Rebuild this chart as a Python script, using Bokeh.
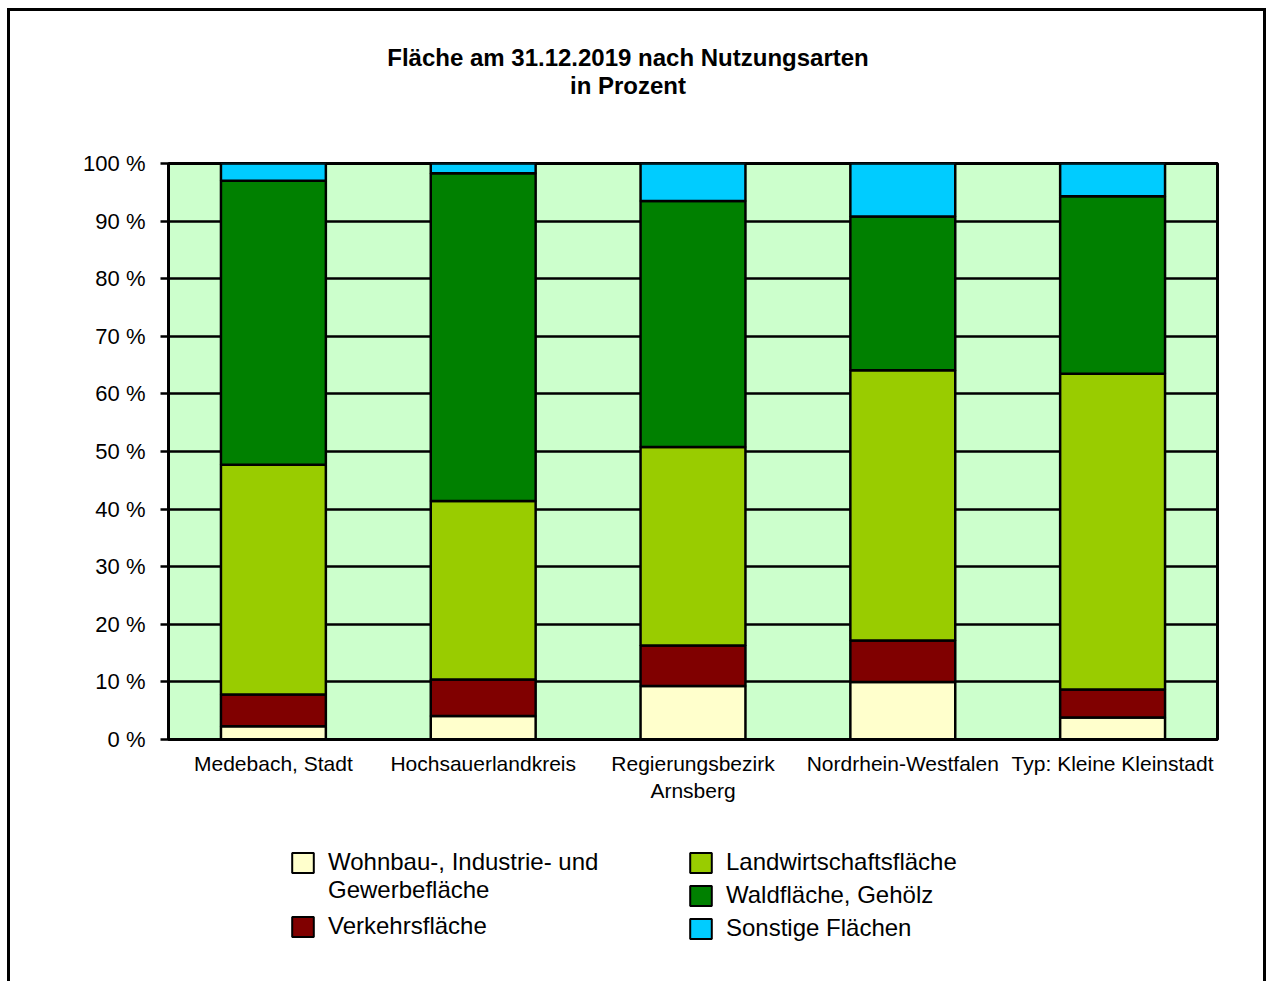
from bokeh.plotting import figure
from bokeh.layouts import column
from bokeh.models import (Range1d, FixedTicker, Legend, LegendItem, Label,
                          ColumnDataSource)
from bokeh.embed import file_html
from bokeh.resources import INLINE

# ---------------- data ----------------
categories = ["Medebach, Stadt", "Hochsauerlandkreis", "Regierungsbezirk\nArnsberg",
              "Nordrhein-Westfalen", "Typ: Kleine Kleinstadt"]
wohnbau = [2.3, 4.1, 9.3, 10.0, 3.8]
verkehr = [5.5, 6.3, 7.0, 7.2, 4.9]
landwirtschaft = [39.9, 31.0, 34.5, 46.9, 54.8]
wald = [49.3, 56.9, 42.7, 26.7, 30.8]
sonstige = [3.0, 1.7, 6.5, 9.2, 5.7]
series_keys = ["wohnbau", "verkehr", "landwirtschaft", "wald", "sonstige"]
series_labels = ["Wohnbau-, Industrie- und", "Verkehrsfläche",
                 "Landwirtschaftsfläche", "Waldfläche, Gehölz", "Sonstige Flächen"]
series_label_continuation = "Gewerbefläche"   # second line of the first legend entry
colors = ["#FFFFCC", "#800000", "#99CC00", "#008000", "#00CCFF"]
y_ticks = [0, 10, 20, 30, 40, 50, 60, 70, 80, 90, 100]
y_tick_labels = ["0 %", "10 %", "20 %", "30 %", "40 %", "50 %", "60 %", "70 %",
                 "80 %", "90 %", "100 %"]
title_lines = ["Fläche am 31.12.2019 nach Nutzungsarten", "in Prozent"]

FONT = "Liberation Sans"
W = 1266
FRAME_L, FRAME_R = 168, 1217          # page x of the plot frame (shared by the column)
TOP_H, MAIN_H = 140, 679
LEG_H = 981 - TOP_H - MAIN_H
NAN = float("nan")

LINE = "linear-gradient(#000,#000)"
def side_lines(with_top=False):
    layers = [f"{LINE} 7px 0px / 3px 100% no-repeat",
              f"{LINE} 1263px 0px / 3px 100% no-repeat"]
    if with_top:
        layers = [f"{LINE} 7px 8px / 3px 100% no-repeat",
                  f"{LINE} 1263px 8px / 3px 100% no-repeat",
                  f"{LINE} 7px 8px / 1259px 3px no-repeat"]
    return {"background": ", ".join(layers)}

def blank_fig(h, y_top):
    # x data units == page pixels inside the (column-aligned) frame
    f = figure(width=W, height=h, x_range=Range1d(FRAME_L, FRAME_R),
               y_range=Range1d(y_top + h, y_top),
               output_backend="svg", toolbar_location=None,
               x_axis_location=None, y_axis_location=None,
               min_border_left=FRAME_L, min_border_right=W - FRAME_R,
               min_border_top=0, min_border_bottom=0)
    f.grid.visible = False
    f.outline_line_color = None
    f.background_fill_alpha = 0
    f.border_fill_alpha = 0
    return f

# ---------------- title strip ----------------
p_top = blank_fig(TOP_H, 0)
p_top.styles = side_lines(with_top=True)
for line, cy in zip(title_lines, [57, 85]):
    p_top.add_layout(Label(x=627.5, y=cy, text=line, text_align="center",
                           text_baseline="middle", text_font=FONT,
                           text_font_size="24px", text_font_style="bold",
                           text_color="black"))

# ---------------- main chart ----------------
source = ColumnDataSource(dict(cat=categories, wohnbau=wohnbau, verkehr=verkehr,
                               landwirtschaft=landwirtschaft, wald=wald,
                               sonstige=sonstige))

p = figure(x_range=categories, y_range=Range1d(0, 100), width=W, height=MAIN_H,
           output_backend="svg", toolbar_location=None,
           min_border_left=FRAME_L, min_border_right=W - FRAME_R,
           min_border_top=23, min_border_bottom=80)
p.styles = side_lines()
p.background_fill_color = "#CCFFCC"
p.border_fill_alpha = 0
p.outline_line_color = "black"
p.outline_line_width = 3

p.vbar_stack(series_keys, x="cat", width=0.5, source=source,
             fill_color=colors, line_color="black", line_width=2.5)

p.xgrid.grid_line_color = None
p.ygrid.ticker = FixedTicker(ticks=y_ticks)
p.ygrid.grid_line_color = "black"
p.ygrid.grid_line_width = 2.5

p.yaxis.ticker = FixedTicker(ticks=y_ticks)
p.yaxis.major_label_overrides = {t: l for t, l in zip(y_ticks, y_tick_labels)}
p.yaxis.axis_line_width = 3
p.yaxis.major_tick_line_width = 2.5
p.yaxis.major_tick_out = 8
p.yaxis.major_tick_in = 0
p.yaxis.minor_tick_line_color = None
p.yaxis.major_label_standoff = 15
p.yaxis.major_label_text_font = FONT
p.yaxis.major_label_text_font_size = "22px"
p.yaxis.major_label_text_color = "black"

p.xaxis.axis_line_width = 3
p.xaxis.major_tick_line_color = None
p.xaxis.major_tick_out = 0
p.xaxis.major_tick_in = 0
p.xaxis.major_label_standoff = 12
p.xaxis.major_label_text_font = FONT
p.xaxis.major_label_text_font_size = "21px"
p.xaxis.major_label_text_color = "black"
p.xaxis.major_label_orientation = "horizontal"

# ---------------- legend strip ----------------
p_leg = blank_fig(LEG_H, TOP_H + MAIN_H)
p_leg.styles = side_lines()
# swatch renderers used only by the legend (NaN position: nothing drawn on the plot)
swatches = [p_leg.vbar(x=[NAN], top=[NAN], bottom=[NAN], width=0.5, fill_color=c,
                       line_color="black", line_width=2) for c in colors]
no_swatch = p_leg.vbar(x=[NAN], top=[NAN], bottom=[NAN], width=0.5,
                       fill_alpha=0, line_alpha=0)

def make_legend(items, loc, spacing):
    return Legend(items=items, location=loc, orientation="vertical",
                  glyph_width=27, glyph_height=25, label_standoff=12, spacing=spacing,
                  padding=0, margin=0, border_line_color=None,
                  background_fill_alpha=0, label_text_font=FONT,
                  label_text_font_size="24px", label_text_color="black",
                  label_height=20)

def item(i):
    return LegendItem(label=series_labels[i], renderers=[swatches[i]])

# first column: two-line entry, then Verkehrsfläche
p_leg.add_layout(make_legend([item(0),
                              LegendItem(label=series_label_continuation,
                                         renderers=[no_swatch])],
                             (289 - FRAME_L, 77), 0), "center")
p_leg.add_layout(make_legend([item(1)], (289 - FRAME_L, 41), 0), "center")
# second column
p_leg.add_layout(make_legend([item(2), item(3), item(4)], (687 - FRAME_L, 39), 5),
                 "center")

layout = column(p_top, p, p_leg, spacing=0)
open("out.html", "w").write(file_html(layout, INLINE))
